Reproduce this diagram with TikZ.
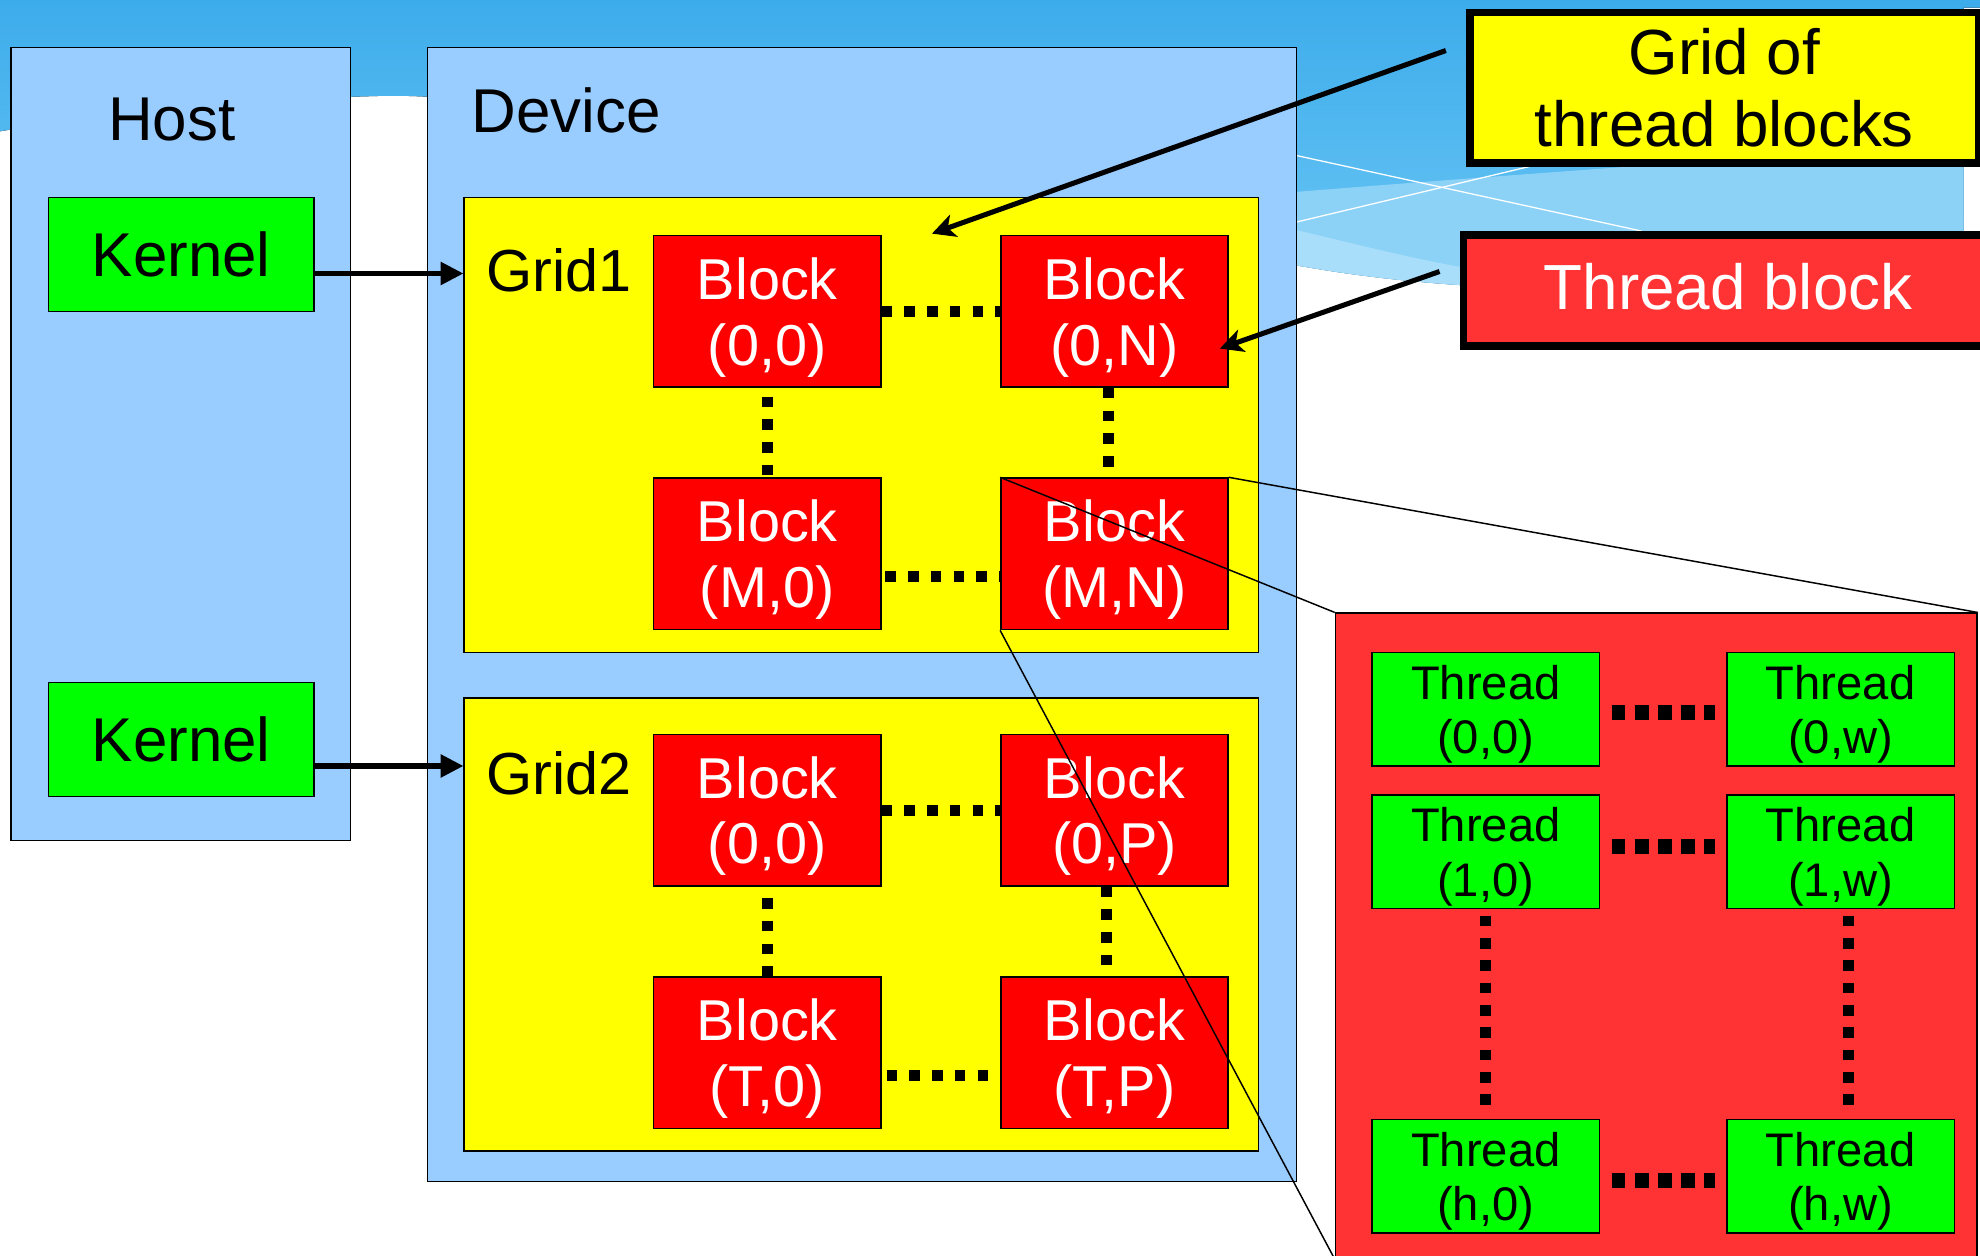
\documentclass[tikz,border=0pt]{standalone}
\usepackage{fontspec}
\setmainfont{Liberation Sans}
\usetikzlibrary{arrows.meta,calc}
\definecolor{panelblue}{HTML}{99CCFF}
\definecolor{gridyellow}{HTML}{FFFF00}
\definecolor{blockred}{HTML}{FF0000}
\definecolor{tred}{HTML}{FF3333}
\definecolor{kgreen}{HTML}{00FF00}
\definecolor{bandtop}{HTML}{3DACEB}
\definecolor{bandbot}{HTML}{6CC7F5}
\definecolor{swoosh}{HTML}{8CD2F7}
\definecolor{swooshb}{HTML}{A8DEFA}
\begin{document}
\begin{tikzpicture}[x=0.6pt,y=-0.6pt,
  box/.style={draw=black,line width=0.7pt,inner sep=0pt,anchor=north west},
  kernelbox/.style={box,fill=kgreen,minimum width=126pt,minimum height=54pt,font=\fontsize{29.4pt}{34pt}\selectfont},
  gridbox/.style={box,fill=gridyellow,minimum width=377.4pt},
  blockbox/.style={box,fill=blockred,minimum width=108pt,minimum height=72pt,text=white,align=center,text depth=0pt,font=\fontsize{27.4pt}{31.2pt}\selectfont},
  threadbox/.style={box,fill=kgreen,minimum width=108pt,minimum height=54pt,align=center,text depth=0pt,font=\fontsize{22.4pt}{25.8pt}\selectfont},
  biglabel/.style={inner sep=0pt,font=\fontsize{29.4pt}{34pt}\selectfont},
  gridlabel/.style={inner sep=0pt,anchor=base west,font=\fontsize{28.2pt}{33pt}\selectfont},
  bdots/.style={line width=5.2pt,dash pattern=on 5pt off 5.8pt},
  tdotsh/.style={line width=7pt,dash pattern=on 6.6pt off 4.4pt},
  tdotsv/.style={line width=5.2pt,dash pattern=on 5.1pt off 5.5pt},
  kar/.style={line width=2.4pt,-{Triangle[length=10.8pt,width=10.5pt]}},
  car/.style={line width=2.4pt,-{Stealth[length=11pt,width=11pt,inset=3pt]}},
  zoomline/.style={line width=0.7pt},
  callout/.style={box,line width=3.6pt,font=\fontsize{30.3pt}{34.1pt}\selectfont,align=center}
]
\useasboundingbox (0,0) rectangle (1568,994);
\fill[white] (0,0) rectangle (1568,994);
% background swoosh
\fill[top color=bandtop,bottom color=bandbot] (0,0) -- (1568,0) -- (1568,6) -- (1555,6) -- (1555,236) -- (1160,226)
  .. controls (1100,222) and (1060,216) .. (1026,210)
  .. controls (700,150) and (450,72) .. (300,76)
  .. controls (180,79) and (80,90) .. (0,104) -- cycle;
\fill[swoosh] (1026,152) .. controls (1200,138) and (1350,128) .. (1555,112) -- (1555,236) -- (1160,226)
  .. controls (1100,222) and (1060,216) .. (1026,210) -- cycle;
\fill[swooshb] (1026,182) .. controls (1080,195) and (1120,205) .. (1160,212) -- (1160,226)
  .. controls (1100,222) and (1060,216) .. (1026,210) -- cycle;
\draw[white,line width=0.6pt] (1026,123) -- (1300,183);
\draw[white,line width=0.6pt] (1026,176) -- (1240,125);

% host and device
\node[box,fill=panelblue,minimum width=161.4pt,minimum height=376.8pt] (host) at (8,37) {};
\node[box,fill=panelblue,minimum width=412.8pt,minimum height=538.8pt] (dev) at (338,37) {};
\node[biglabel,anchor=base] (hostlbl) at (136,111) {Host};
\node[biglabel,anchor=base west] (devlbl) at (373,105) {Device};

% kernels
\node[kernelbox] (k1) at (38,156) {Kernel};
\node[kernelbox] (k2) at (38,540) {Kernel};

% grids
\node[gridbox,minimum height=216pt] (g1) at (367,156) {};
\node[gridbox,minimum height=215.4pt] (g2) at (367,552) {};
\node[gridlabel] (g1lbl) at (385,231) {Grid1};
\node[gridlabel] (g2lbl) at (385,629) {Grid2};

% blocks grid 1
\node[blockbox] (b00) at (517,186) {Block\\(0,0)};
\node[blockbox] (b0N) at (792,186) {Block\\(0,N)};
\node[blockbox] (bM0) at (517,378) {Block\\(M,0)};
\node[blockbox] (bMN) at (792,378) {Block\\(M,N)};
% blocks grid 2
\node[blockbox] (c00) at (517,581) {Block\\(0,0)};
\node[blockbox] (c0P) at (792,581) {Block\\(0,P)};
\node[blockbox] (cT0) at (517,773) {Block\\(T,0)};
\node[blockbox] (cTP) at (792,773) {Block\\(T,P)};

% block dots
\draw[bdots] (b00.east) -- (b0N.west);
\draw[bdots] ([shift={(3,18)}]bM0.east) -- ([shift={(0,18)}]bMN.west);
\draw[bdots] ([shift={(0,7)}]b00.south) -- (bM0.north);
\draw[bdots] ([shift={(-5,0)}]b0N.south) -- ([shift={(-5,0)}]bMN.north);
\draw[bdots] (c00.east) -- (c0P.west);
\draw[bdots] ([shift={(4,18)}]cT0.east) -- ([shift={(0,18)}]cTP.west);
\draw[bdots] ([shift={(0,9)}]c00.south) -- (cT0.north);
\draw[bdots] ([shift={(-6,0)}]c0P.south) -- ([shift={(-6,0)}]cTP.north);

% kernel arrows
\draw[kar] ([yshift=-9pt]k1.east) -- ([yshift=-9pt]k1.east -| g1.west);
\draw[kar] ([yshift=-12.6pt]k2.east) -- ([yshift=-12.6pt]k2.east -| g2.west);

% zoom lines
\node[box,fill=tred,minimum width=304.8pt,minimum height=306.6pt] (tp) at (1057,485) {};
\draw[zoomline] (bMN.north west) -- (tp.north west);
\draw[zoomline] (bMN.north east) -- (tp.north east);
\draw[zoomline] (bMN.south west) -- (tp.south west);

% threads
\node[threadbox] (t00) at (1086,516) {Thread\\(0,0)};
\node[threadbox] (t0w) at (1367,516) {Thread\\(0,w)};
\node[threadbox] (t10) at (1086,629) {Thread\\(1,0)};
\node[threadbox] (t1w) at (1367,629) {Thread\\(1,w)};
\node[threadbox] (th0) at (1086,886) {Thread\\(h,0)};
\node[threadbox] (thw) at (1367,886) {Thread\\(h,w)};
\draw[tdotsh] ([shift={(9,2.6)}]t00.east) -- ([shift={(-9,2.6)}]t0w.west);
\draw[tdotsh] ([shift={(9,-4)}]t10.east) -- ([shift={(-9,-4)}]t1w.west);
\draw[tdotsh] ([shift={(9,3)}]th0.east) -- ([shift={(-9,3)}]thw.west);
\draw[tdotsv] ([shift={(0,5)}]t10.south) -- ([shift={(0,-10)}]th0.north);
\draw[tdotsv] ([shift={(6,5)}]t1w.south) -- ([shift={(6,-10)}]thw.north);

% callouts
\node[callout,fill=gridyellow,minimum width=241.8pt,minimum height=71.4pt] (cg) at (1161,7) {Grid of\\thread blocks};
\node[callout,fill=tred,text=white,text depth=3.6pt,minimum width=251.4pt,minimum height=52.8pt] (ctb) at (1156,183) {Thread block};
\coordinate (cgs) at (1145,40);
\coordinate (cgt) at (738,185);
\coordinate (cts) at (1140,215);
\coordinate (ctt) at (966,276);
\draw[car] (cgs) -- (cgt);
\draw[car] (cts) -- (ctt);
\end{tikzpicture}
\end{document}
